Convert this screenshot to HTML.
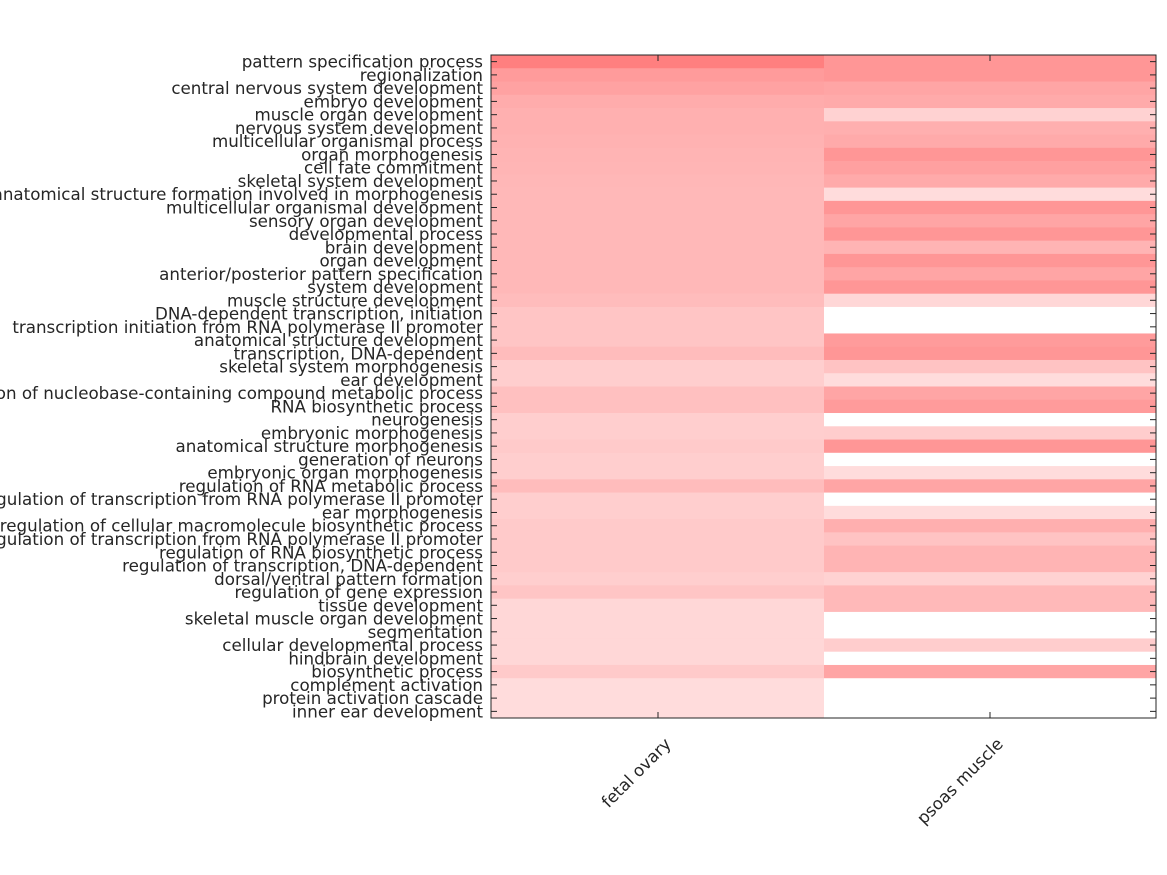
<!DOCTYPE html>
<html><head><meta charset="utf-8"><style>body{margin:0;background:#fff}svg{display:block}</style></head>
<body>
<svg id="s" width="1167" height="875" xmlns="http://www.w3.org/2000/svg" font-family="DejaVu Sans, sans-serif" font-size="16.7" fill="#262626">
<g id="cells"></g>
<g id="labels" text-anchor="end">
</g>
<rect x="491" y="55" width="665" height="663" fill="none" stroke="#262626" stroke-width="1"/>
<g id="ticks" stroke="#262626" stroke-width="1"></g>
<text transform="translate(663,736) rotate(-45)" text-anchor="end" dominant-baseline="hanging">fetal ovary</text>
<text transform="translate(995,736) rotate(-45)" text-anchor="end" dominant-baseline="hanging">psoas muscle</text>
</svg>
<script>
var labels=["pattern specification process","regionalization","central nervous system development","embryo development","muscle organ development","nervous system development","multicellular organismal process","organ morphogenesis","cell fate commitment","skeletal system development","anatomical structure formation involved in morphogenesis","multicellular organismal development","sensory organ development","developmental process","brain development","organ development","anterior/posterior pattern specification","system development","muscle structure development","DNA-dependent transcription, initiation","transcription initiation from RNA polymerase II promoter","anatomical structure development","transcription, DNA-dependent","skeletal system morphogenesis","ear development","regulation of nucleobase-containing compound metabolic process","RNA biosynthetic process","neurogenesis","embryonic morphogenesis","anatomical structure morphogenesis","generation of neurons","embryonic organ morphogenesis","regulation of RNA metabolic process","regulation of transcription from RNA polymerase II promoter","ear morphogenesis","regulation of cellular macromolecule biosynthetic process","regulation of transcription from RNA polymerase II promoter","regulation of RNA biosynthetic process","regulation of transcription, DNA-dependent","dorsal/ventral pattern formation","regulation of gene expression","tissue development","skeletal muscle organ development","segmentation","cellular developmental process","hindbrain development","biosynthetic process","complement activation","protein activation cascade","inner ear development"];
var L=[127,155,162,172,176,176,178,180,181,183,184,184,184,184,184,184,184,184,188,197,197,197,188,206,206,192,192,206,206,202,206,206,188,206,206,202,202,202,202,206,197,215,215,215,215,215,202,220,220,220];
var R=[150,150,165,170,210,175,170,150,160,170,220,150,165,150,180,150,165,150,215,255,255,155,150,195,220,165,155,255,205,150,255,220,165,255,220,175,195,180,180,210,185,185,255,255,205,255,165,255,255,255];
var ns="http://www.w3.org/2000/svg",h=663/50,c=document.getElementById("cells"),lb=document.getElementById("labels"),tk=document.getElementById("ticks");
function el(t,a,p){var e=document.createElementNS(ns,t);for(var k in a)e.setAttribute(k,a[k]);p.appendChild(e);return e;}
for(var i=0;i<50;i++){var y=55+i*h;
el("rect",{x:491,y:y,width:333,height:h+0.5,fill:"rgb(255,"+L[i]+","+L[i]+")"},c);
el("rect",{x:824,y:y,width:332,height:h+0.5,fill:"rgb(255,"+R[i]+","+R[i]+")"},c);
var t=el("text",{x:483,y:y+h/2+6},lb);t.textContent=labels[i];
var yc=y+h/2;el("line",{x1:491,y1:yc,x2:497,y2:yc},tk);el("line",{x1:1150,y1:yc,x2:1156,y2:yc},tk);}
[658,990].forEach(function(x){el("line",{x1:x,y1:718,x2:x,y2:712},tk);el("line",{x1:x,y1:55,x2:x,y2:61},tk);});
</script>
</body></html>
